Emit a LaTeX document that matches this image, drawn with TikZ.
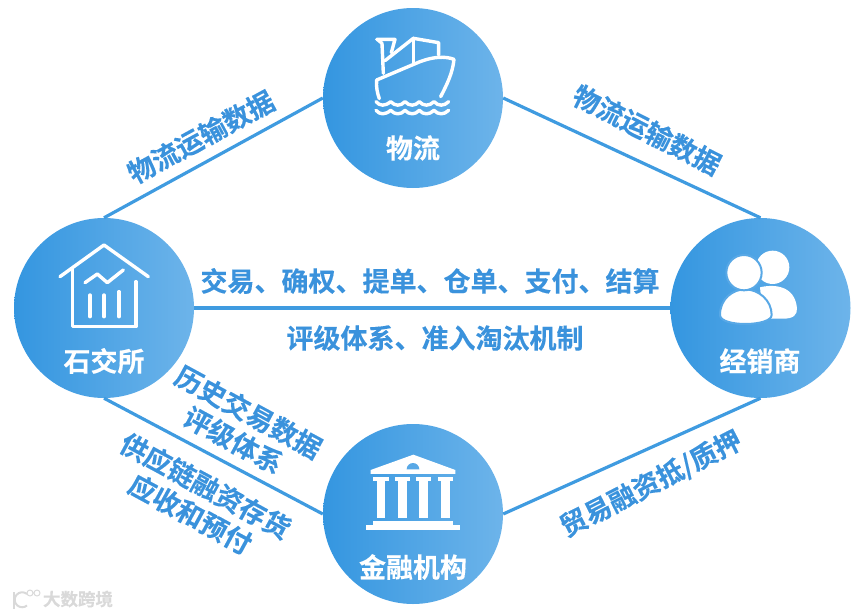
\documentclass[tikz,border=0pt]{standalone}
\usepackage{fontspec}
\setmainfont{Noto Sans CJK SC}[BoldFont={* Bold},BoldFeatures={FakeBold=0.25}]
\definecolor{gradL}{HTML}{3496E0}
\definecolor{gradR}{HTML}{6DB4EA}
\definecolor{lineB}{HTML}{3F9BE0}
\definecolor{textB}{HTML}{3A92DC}
\definecolor{gapB}{HTML}{58A8E6}
\tikzset{
  hub/.style={circle,minimum size=180pt,inner sep=0pt,left color=gradL,right color=gradR,draw=none},
  hubtext/.style={text=white,font=\fontsize{27}{29}\selectfont\bfseries,inner sep=0pt},
  link/.style={draw=lineB,line width=3.2pt},
  lbl/.style={text=textB,font=\fontsize{27}{32}\selectfont\bfseries,inner sep=0pt,align=center},
  icon/.style={draw=white,line width=3.4pt,line cap=round,line join=round},
  solidicon/.style={fill=white,draw=none}
}
\begin{document}
\begin{tikzpicture}[x=1pt,y=-1pt]
\useasboundingbox (0,0) rectangle (868,616);
\node[hub] (wu) at (413,98) {};
\node[hub] (shi) at (104,308) {};
\node[hub] (jing) at (760.5,308) {};
\node[hub] (jin) at (413,514) {};
\draw[link] (shi.north) -- (wu.west);
\draw[link] (wu.east) -- (jing.north);
\draw[link] (shi.east) -- (jing.west);
\draw[link] (shi.south) -- (jin.west);
\draw[link] (jin.east) -- (jing.south);

\node[hubtext] (twu) at (413,148) {物流};
\node[hubtext] (tshi) at (104,361) {石交所};
\node[hubtext] (tjing) at (760,361) {经销商};
\node[hubtext] (tjin) at (413,567) {金融机构};

\node[lbl,rotate=28.5] (l1) at (201,137) {物流运输数据};
\node[lbl,rotate=-27] (l2) at (647,130) {物流运输数据};
\node[lbl] (l3) at (430,281) {交易、确权、提单、仓单、支付、结算};
\node[lbl] (l4) at (435,338) {评级体系、准入淘汰机制};
\node[lbl,rotate=-28.5] (l5) at (241,426) {历史交易数据\\评级体系};
\node[lbl,rotate=-28.5] (l6) at (198,500) {供应链融资存货\\应收和预付};
\node[lbl,rotate=27] (l7) at (651,484) {贸易融资抵/质押};

% ship
\begin{scope}[x=0.3333pt,y=-0.3333pt,shift={(320pt,0pt)}]
\draw[icon] (170,118) -- (225,118) -- (214,158);
\draw[icon] (172,118) -- (186,130) -- (190,220);
\draw[icon] (195,182) -- (280,115) -- (356,128) -- (356,165);
\draw[icon] (280,115) -- (280,188);
\draw[icon] (170,240) -- (300,185) .. controls (340,170) and (375,168) .. (402,178)
  .. controls (398,220) and (380,255) .. (362,290);
\draw[icon] (170,240) .. controls (168,260) and (172,280) .. (178,296);
\foreach \yy in {305,331}{
\draw[icon] (168,\yy) .. controls (180,\yy+14) and (195,\yy+14) .. (212,\yy)
 .. controls (225,\yy+14) and (242,\yy+14) .. (255,\yy)
 .. controls (268,\yy+14) and (285,\yy+14) .. (298,\yy)
 .. controls (310,\yy+14) and (328,\yy+14) .. (342,\yy)
 .. controls (355,\yy+14) and (372,\yy+14) .. (386,\yy);
}
\end{scope}

% house
\begin{scope}[x=0.3333pt,y=-0.3333pt,shift={(0pt,-210pt)}]
\draw[icon] (180,200) -- (312,105) -- (445,200);
\draw[icon] (218,178) -- (218,350) -- (408,350) -- (408,215);
\draw[icon] (255,218) -- (292,192) -- (322,218) -- (370,180);
\draw[icon] (270,255) -- (270,320);
\draw[icon] (312,255) -- (312,320);
\draw[icon] (357,245) -- (357,320);
\end{scope}

% people
\begin{scope}[x=0.3333pt,y=-0.3333pt,shift={(670pt,-210pt)}]
\fill[white] (308,172) circle[radius=50pt*0.3333];
\fill[white] (270,232) .. controls (310,222) and (375,225) .. (381,295)
  .. controls (382,315) and (370,326) .. (340,326) -- (280,326) -- cycle;
\draw[gapB,line width=2pt,fill=white] (150,315) .. controls (150,265) and (190,238) .. (225,238)
  .. controls (265,238) and (305,270) .. (305,315)
  .. controls (305,350) and (150,352) .. (150,315) -- cycle;
\draw[gapB,line width=2pt,fill=white] (222,188) circle[radius=53pt*0.3333];
\end{scope}

% bank
\begin{scope}[x=0.3333pt,y=-0.3333pt,shift={(320pt,-420pt)}]
\fill[solidicon] (152,162) -- (152,150) -- (280,104) -- (406,150) -- (406,162) -- cycle;
\fill[gapB] (260,148) arc[start angle=180,end angle=0,radius=19pt*0.3333] -- cycle;
\foreach \cx in {183,247,311,376}{
  \fill[solidicon] (\cx-23,170) rectangle (\cx+23,184);
  \fill[solidicon] (\cx-13,184) rectangle (\cx+13,294);
}
\fill[solidicon] (160,304) rectangle (398,316);
\fill[solidicon] (138,316) rectangle (420,331);
\end{scope}

% watermark
\node[text=gray!30,font=\fontsize{17.5}{19}\selectfont\bfseries,inner sep=0pt] (wm) at (78,599) {大数跨境};
\coordinate (k1) at (14,592);
\coordinate (k2) at (14,609);
\draw[gray!30,line width=2.2pt] (k1) -- (k2);
\draw[gray!30,line width=2pt] (27,594) arc[start angle=50,end angle=310,radius=7.5pt];
\draw[gray!30,line width=1pt] (30,593) circle[radius=3pt] (37,593) circle[radius=3pt];
\end{tikzpicture}
\end{document}
